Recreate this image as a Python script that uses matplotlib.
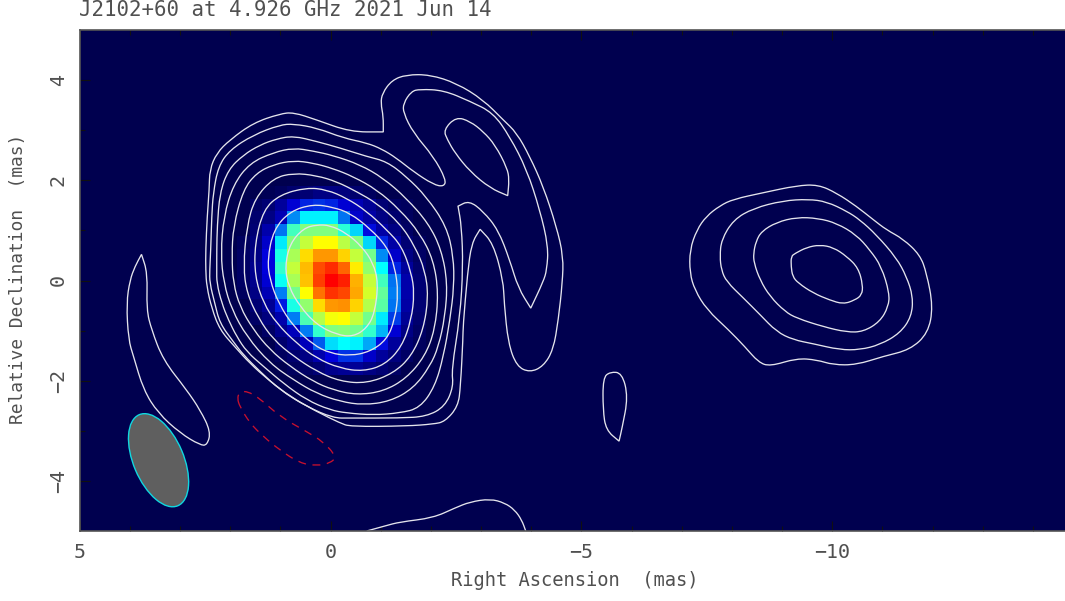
import matplotlib
matplotlib.use('Agg')
import matplotlib.pyplot as plt
from matplotlib.colors import LinearSegmentedColormap
from matplotlib.patches import Ellipse, PathPatch
from matplotlib.path import Path
from matplotlib.ticker import MultipleLocator

# --- CLEAN map pixels around the core (0.25 mas cells, peak = 1), top row first, east on the left
cell_size = 0.25
core_map = [
    [0, 0, 0.01, 0.02, 0.04, 0.05, 0.07, 0.07, 0.06, 0.04, 0.02, 0, 0, 0, 0],
    [0, 0.03, 0.05, 0.10, 0.17, 0.21, 0.22, 0.21, 0.17, 0.13, 0.09, 0.05, 0.03, 0.02, 0],
    [0, 0.04, 0.07, 0.13, 0.29, 0.39, 0.39, 0.39, 0.27, 0.16, 0.11, 0.07, 0.04, 0.02, 0],
    [0, 0.05, 0.12, 0.27, 0.45, 0.50, 0.50, 0.50, 0.43, 0.36, 0.19, 0.11, 0.07, 0.03, 0],
    [0.02, 0.06, 0.16, 0.38, 0.50, 0.58, 0.65, 0.65, 0.57, 0.50, 0.36, 0.21, 0.11, 0.05, 0.02],
    [0.03, 0.07, 0.18, 0.42, 0.55, 0.69, 0.77, 0.77, 0.70, 0.58, 0.49, 0.29, 0.16, 0.07, 0.03],
    [0.03, 0.08, 0.18, 0.44, 0.58, 0.73, 0.88, 0.93, 0.84, 0.67, 0.52, 0.40, 0.21, 0.10, 0.04],
    [0.03, 0.08, 0.17, 0.41, 0.55, 0.72, 0.90, 1.00, 0.95, 0.74, 0.58, 0.45, 0.27, 0.12, 0.05],
    [0.02, 0.07, 0.13, 0.28, 0.49, 0.65, 0.82, 0.92, 0.89, 0.75, 0.60, 0.48, 0.28, 0.12, 0.05],
    [0, 0.05, 0.09, 0.20, 0.42, 0.52, 0.69, 0.77, 0.78, 0.70, 0.56, 0.47, 0.27, 0.11, 0.05],
    [0, 0.03, 0.06, 0.12, 0.28, 0.46, 0.56, 0.64, 0.65, 0.58, 0.49, 0.38, 0.23, 0.09, 0.04],
    [0, 0, 0.03, 0.08, 0.14, 0.28, 0.44, 0.50, 0.51, 0.49, 0.44, 0.33, 0.17, 0.07, 0.03],
    [0, 0, 0, 0.04, 0.08, 0.14, 0.25, 0.37, 0.40, 0.39, 0.32, 0.19, 0.10, 0.05, 0.02],
    [0, 0, 0, 0.02, 0.04, 0.07, 0.12, 0.18, 0.22, 0.22, 0.16, 0.10, 0.06, 0.03, 0],
    [0, 0, 0, 0, 0.02, 0.03, 0.05, 0.08, 0.09, 0.09, 0.07, 0.05, 0.03, 0, 0],
]

# --- positive contours, (ra, dec) in mas, innermost first. A repeated point keeps a sharp corner
c1_ra = [0.01, -0.32, -0.62, -0.85, -0.95, -0.88, -0.72, -0.45, -0.12, 0.28, 0.61, 0.84, 0.91, 0.81, 0.54, 0.28, 0.01]
c1_dec = [1.10, 0.94, 0.68, 0.35, -0.05, -0.65, -0.95, -1.12, -1.08, -0.88, -0.52, -0.12, 0.28, 0.74, 1.04, 1.11, 1.10]

c2_ra = [0.35, -0.05, -0.39, -0.78, -1.12, -1.28, -1.35, -1.28, -1.12, -0.78, -0.39, 0.01, 0.35, 0.74, 1.04, 1.21, 1.26, 1.14, 0.81, 0.35]
c2_dec = [1.52, 1.46, 1.34, 1.04, 0.68, 0.28, -0.25, -0.78, -1.18, -1.42, -1.50, -1.45, -1.28, -0.92, -0.45, 0.01, 0.41, 1.01, 1.38, 1.52]

c3_ra = [0.48, 0.08, -0.32, -0.72, -1.12, -1.42, -1.61, -1.67, -1.61, -1.42, -1.08, -0.65, -0.19, 0.28, 0.68, 1.08, 1.34, 1.51, 1.51, 1.34, 1.01, 0.48]
c3_dec = [1.85, 1.81, 1.64, 1.38, 1.01, 0.68, 0.15, -0.25, -0.78, -1.32, -1.68, -1.81, -1.75, -1.55, -1.25, -0.85, -0.45, 0.08, 0.74, 1.41, 1.71, 1.85]

c4_ra = [0.74, 0.28, -0.12, -0.52, -0.92, -1.38, -1.68, -1.88, -1.95, -1.85, -1.61, -1.25, -0.72, -0.19, 0.28, 0.74, 1.14, 1.44, 1.67, 1.74, 1.67, 1.51, 1.14, 0.74]
c4_dec = [2.14, 2.09, 1.97, 1.77, 1.54, 1.14, 0.68, 0.21, -0.32, -0.98, -1.51, -1.85, -2.05, -2.01, -1.81, -1.51, -1.18, -0.75, -0.25, 0.28, 1.08, 1.64, 2.04, 2.14]

c5_ra = [0.74, 0.35, -0.05, -0.45, -0.92, -1.38, -1.78, -2.05, -2.15, -2.08, -1.88, -1.51, -1.05, -0.52, -0.05, 0.35, 0.81, 1.21, 1.54, 1.81, 1.94, 1.97, 1.94, 1.74, 1.48, 1.14, 0.74]
c5_dec = [2.39, 2.34, 2.23, 2.07, 1.81, 1.41, 0.94, 0.41, -0.25, -0.98, -1.51, -1.95, -2.21, -2.28, -2.18, -2.01, -1.71, -1.38, -0.98, -0.52, -0.05, 0.48, 1.08, 1.81, 2.14, 2.31, 2.39]

c6_ra = [0.74, 0.35, -0.05, -0.58, -1.05, -1.51, -1.95, -2.21, -2.33, -2.28, -2.15, -1.98, -1.65, -1.18, -0.65, -0.19, 0.28, 0.74, 1.21, 1.67, 1.97, 2.13, 2.19, 2.13, 1.94, 1.61, 1.14, 0.74]
c6_dec = [2.64, 2.58, 2.49, 2.31, 2.04, 1.64, 1.14, 0.61, -0.05, -0.72, -1.32, -1.71, -2.15, -2.41, -2.48, -2.41, -2.25, -1.98, -1.65, -1.12, -0.58, -0.05, 0.54, 1.28, 1.91, 2.34, 2.55, 2.64]

c7_ra = [2.27, 2.26, 2.21, 2.04, 1.74, 1.41, 1.08, 0.74, 0.28, -0.19, -0.72, -1.12, -1.51, -1.91, -2.31, -2.45, -2.46, -2.38, -2.25, -2.08, -1.78, -1.38, -0.85, -0.32, 0.01, 0.48, 0.94, 1.34, 1.67, 1.87, 2.04, 2.17, 2.27, 2.27, 2.27]
c7_dec = [0.61, 1.08, 1.74, 2.21, 2.50, 2.70, 2.82, 2.88, 2.77, 2.64, 2.47, 2.37, 2.07, 1.67, 1.08, 0.48, -0.12, -0.78, -1.51, -2.11, -2.54, -2.64, -2.68, -2.64, -2.58, -2.38, -2.05, -1.71, -1.42, -1.12, -0.78, -0.45, -0.05, 0.21, 0.61]

c8_ra = [2.39, 2.37, 2.34, 2.24, 2.01, 1.54, 1.01, 0.74, 0.28, -0.25, -0.72, -1.02, -1.31, -1.65, -2.05, -2.26, -2.30, -2.05, -1.65, -1.45, -1.45, -1.61, -1.78, -2.25, -2.78, -3.24, -3.57, -3.91, -4.17, -4.34, -4.31, -4.24, -3.99, -3.99, -3.74, -3.57, -3.34, -3.04, -2.76, -2.54, -2.54, -2.61, -2.64, -2.58, -2.41, -2.45, -2.28, -1.91, -1.38, -0.39, -0.05, 0.48, 1.01, 1.41, 1.74, 1.94, 2.21, 2.31, 2.41, 2.41, 2.39]
c8_dec = [0.61, 1.28, 1.74, 2.27, 2.60, 2.90, 3.10, 3.12, 3.04, 2.84, 2.74, 2.62, 2.44, 2.17, 1.91, 1.87, 2.01, 2.47, 2.94, 3.34, 3.53, 3.77, 3.81, 3.79, 3.57, 3.34, 2.87, 2.21, 1.41, 0.68, 0.21, -0.02, -0.55, -0.55, -0.15, 0.41, 1.01, 1.38, 1.59, 1.48, 1.48, 1.08, 0.28, -0.72, -1.78, -2.11, -2.51, -2.71, -2.74, -2.74, -2.74, -2.51, -2.18, -1.81, -1.48, -1.22, -0.85, -0.45, -0.05, 0.21, 0.61]

c9_ra = [2.49, 2.46, 2.42, 2.41, 2.27, 2.01, 1.54, 1.01, 0.74, 0.28, -0.39, -1.05, -1.05, -1.05, -1.00, -1.03, -1.22, -1.51, -1.98, -2.51, -3.04, -3.44, -3.71, -3.97, -4.24, -4.50, -4.64, -4.62, -4.54, -4.44, -4.24, -3.97, -3.71, -3.54, -3.46, -3.44, -3.24, -2.98, -2.98, -2.81, -2.73, -2.64, -2.64, -2.59, -2.54, -2.28, -2.05, -1.51, -0.39, -0.19, 0.28, 0.81, 1.24, 1.61, 1.91, 2.21, 2.37, 2.47, 2.49, 2.49]
c9_dec = [0.61, 1.28, 1.81, 2.21, 2.54, 2.80, 3.14, 3.32, 3.35, 3.20, 2.96, 2.96, 2.96, 3.27, 3.53, 3.73, 3.99, 4.10, 4.10, 3.93, 3.60, 3.20, 2.94, 2.47, 1.87, 1.08, 0.48, -0.05, -0.78, -1.38, -1.71, -1.83, -1.71, -1.25, -0.45, 0.01, 0.74, 1.02, 1.02, 0.74, 0.15, -0.92, -1.12, -2.11, -2.51, -2.81, -2.86, -2.90, -2.91, -2.84, -2.61, -2.31, -1.98, -1.65, -1.32, -0.98, -0.55, -0.12, 0.21, 0.61]

island_ra = [-2.25, -2.50, -2.78, -3.04, -3.28, -3.52, -3.56, -3.53, -3.53, -3.18, -2.78, -2.48, -2.33, -2.25]
island_dec = [3.00, 3.26, 3.17, 2.97, 2.70, 2.24, 2.01, 1.69, 1.69, 1.84, 2.17, 2.54, 2.80, 3.00]

crescent_ra = [3.77, 3.77, 3.65, 3.67, 3.57, 3.34, 2.87, 2.60, 2.39, 2.46, 2.60, 3.00, 3.44, 3.73, 3.93, 4.03, 4.07, 4.00, 3.90, 3.77]
crescent_dec = [0.52, 0.52, 0.15, -0.58, -0.98, -1.58, -2.18, -2.58, -3.01, -3.28, -3.28, -3.04, -2.64, -2.18, -1.51, -1.18, -0.45, 0.01, 0.28, 0.52]

south_ra = [-0.72, -1.08, -1.38, -2.04, -2.48, -2.78, -3.18, -3.47, -3.67, -3.81, -3.89]
south_dec = [-4.99, -4.89, -4.81, -4.73, -4.53, -4.41, -4.35, -4.43, -4.57, -4.77, -4.99]

blob_ra = [-5.43, -5.57, -5.81, -5.93, -5.81, -5.75, -5.75, -5.49, -5.43, -5.43]
blob_dec = [-1.94, -1.82, -1.84, -2.32, -2.94, -3.20, -3.20, -2.98, -2.58, -1.94]

# --- jet component around -10 mas
r1_ra = [-7.76, -8.03, -8.63, -9.29, -9.72, -10.09, -10.48, -10.82, -11.08, -11.41, -11.75, -11.88, -12.01, -11.91, -11.55, -11.02, -10.48, -10.02, -9.69, -9.29, -8.76, -8.53, -8.26, -7.93, -7.50, -7.26, -7.16, -7.16, -7.30, -7.49, -7.76]
r1_dec = [1.49, 1.62, 1.75, 1.89, 1.91, 1.74, 1.48, 1.21, 1.01, 0.83, 0.51, 0.15, -0.52, -1.05, -1.38, -1.51, -1.68, -1.68, -1.58, -1.55, -1.71, -1.63, -1.32, -0.98, -0.58, -0.19, 0.15, 0.61, 1.01, 1.28, 1.49]

r2_ra = [-7.76, -7.79, -8.03, -8.43, -9.02, -9.52, -9.89, -10.29, -10.55, -10.88, -11.28, -11.48, -11.61, -11.58, -11.35, -10.95, -10.55, -10.15, -9.62, -9.22, -8.89, -8.56, -8.23, -7.89, -7.79, -7.76]
r2_dec = [0.48, 0.81, 1.21, 1.44, 1.59, 1.62, 1.57, 1.38, 1.21, 0.91, 0.45, 0.08, -0.32, -0.72, -1.05, -1.28, -1.38, -1.38, -1.26, -1.18, -1.02, -0.68, -0.35, -0.02, 0.21, 0.48]

r3_ra = [-8.43, -8.48, -8.59, -8.89, -9.29, -9.72, -10.09, -10.48, -10.75, -10.98, -11.14, -11.12, -10.95, -10.62, -10.29, -9.82, -9.29, -9.06, -8.76, -8.56, -8.44, -8.43]
r3_dec = [0.54, 0.78, 0.98, 1.16, 1.26, 1.24, 1.14, 0.91, 0.61, 0.28, -0.25, -0.52, -0.82, -1.02, -1.03, -0.92, -0.75, -0.62, -0.32, 0.01, 0.35, 0.54]

r4_ra = [-9.18, -9.26, -9.49, -9.75, -10.02, -10.29, -10.52, -10.61, -10.59, -10.45, -10.22, -9.95, -9.62, -9.32, -9.21, -9.18, -9.18]
r4_dec = [0.48, 0.54, 0.66, 0.71, 0.66, 0.48, 0.25, -0.09, -0.29, -0.39, -0.47, -0.39, -0.25, -0.05, 0.08, 0.28, 0.48]

# --- negative contour, dashed red
neg_ra = [1.86, 1.82, 1.67, 1.41, 1.01, 0.48, 0.15, -0.12, 0.01, 0.28, 0.61, 1.01, 1.34, 1.61, 1.81, 1.86]
neg_dec = [-2.35, -2.23, -2.20, -2.35, -2.71, -3.01, -3.21, -3.51, -3.64, -3.69, -3.64, -3.38, -3.11, -2.84, -2.51, -2.35]

# --- restoring beam
beam_ra = 3.43
beam_dec = -3.58
beam_major = 1.97
beam_minor = 1.0
beam_pa = 23

title = 'J2102+60 at 4.926 GHz 2021 Jun 14'
x_label = 'Right Ascension  (mas)'
y_label = 'Relative Declination  (mas)'

W, H = 1065, 601
TEXT_COLOR = '#505050'
LINE_COLOR = '#e4e4ec'


def plot_contour(ax, ra, dec, color=LINE_COLOR, style='-', closed=True):
    """Rounded outline through the read points, midpoints as anchors"""
    pts = list(zip(ra, dec))
    if closed:
        pts = pts[:-1]
    mids = [((pts[i][0] + pts[(i + 1) % len(pts)][0]) / 2, (pts[i][1] + pts[(i + 1) % len(pts)][1]) / 2)
            for i in range(len(pts))]
    if closed:
        verts = [mids[-1]]
        for i in range(len(pts)):
            verts += [pts[i], mids[i]]
    else:
        verts = [pts[0]]
        for i in range(1, len(pts) - 1):
            verts += [pts[i], mids[i]]
        verts.append(pts[-1])
    codes = [Path.MOVETO] + [Path.CURVE3] * (len(verts) - 1)
    if not closed:
        codes[-1] = Path.LINETO
    ax.add_patch(PathPatch(Path(verts, codes), fill=False, edgecolor=color, linewidth=0.95,
                           linestyle=style, zorder=3))


plt.rcParams['font.family'] = ['DejaVu Sans Mono']

fig = plt.figure(figsize=(W / 100, H / 100), dpi=100)
ax = fig.add_axes([79.8 / W, (H - 531) / H, (W - 79.8) / W, 501 / H])

cmap = LinearSegmentedColormap.from_list('map', [
    (0.0, '#00004f'), (0.18, '#0000dc'), (0.28, '#0080f5'), (0.40, '#00ffff'),
    (0.50, '#80ff80'), (0.65, '#ffff00'), (0.80, '#ff8000'), (1.0, '#ff0000')])
ax.set_facecolor(cmap(0.0))

half = len(core_map) * cell_size / 2
ax.imshow(core_map, cmap=cmap, vmin=0, vmax=1, interpolation='nearest', aspect='auto',
          extent=(half, -half, -half, half), zorder=1)

for ra, dec in [(c1_ra, c1_dec), (c2_ra, c2_dec), (c3_ra, c3_dec), (c4_ra, c4_dec),
                (c5_ra, c5_dec), (c6_ra, c6_dec), (c7_ra, c7_dec), (c8_ra, c8_dec),
                (c9_ra, c9_dec), (island_ra, island_dec), (crescent_ra, crescent_dec),
                (blob_ra, blob_dec), (r1_ra, r1_dec),
                (r2_ra, r2_dec), (r3_ra, r3_dec), (r4_ra, r4_dec)]:
    plot_contour(ax, ra, dec)
plot_contour(ax, south_ra, south_dec, closed=False)
plot_contour(ax, neg_ra, neg_dec, color='#c8102e', style=(0, (6, 5)))

ax.add_patch(Ellipse((beam_ra, beam_dec), beam_minor, beam_major, angle=-beam_pa,
                     facecolor='#5f5f5f', edgecolor='#10d8e0', linewidth=1.0, zorder=4))

ax.set_xlim(5, -14.64)
ax.set_ylim(-4.99, 4.99)

ax.xaxis.set_major_locator(MultipleLocator(5))
ax.xaxis.set_minor_locator(MultipleLocator(1))
ax.yaxis.set_major_locator(MultipleLocator(2))
ax.yaxis.set_minor_locator(MultipleLocator(1))
ax.tick_params(which='major', direction='in', length=7.2, width=0.8, top=True,
               color='#111111', labelcolor=TEXT_COLOR, labelsize=14.4, pad=8.5)
ax.tick_params(which='minor', direction='in', length=3.6, width=0.8, top=True, color='#111111')
for label in ax.get_yticklabels():
    label.set_rotation(90)
    label.set_va('center')
ax.spines['right'].set_visible(False)
for name in ['left', 'top', 'bottom']:
    ax.spines[name].set_color('#555555')
    ax.spines[name].set_linewidth(1.2)
    ax.spines[name].set_zorder(5)

fig.text(79 / W, 1 - 15.5 / H, title, color=TEXT_COLOR, fontsize=14.95, ha='left', va='baseline')
fig.text(575 / W, 1 - 580 / H, x_label, color=TEXT_COLOR, fontsize=13.5, ha='center', va='center')
fig.text(18 / W, 1 - 279 / H, y_label, color=TEXT_COLOR, fontsize=12.9, rotation=90, ha='center', va='center')

fig.savefig('out.png', dpi=100)
